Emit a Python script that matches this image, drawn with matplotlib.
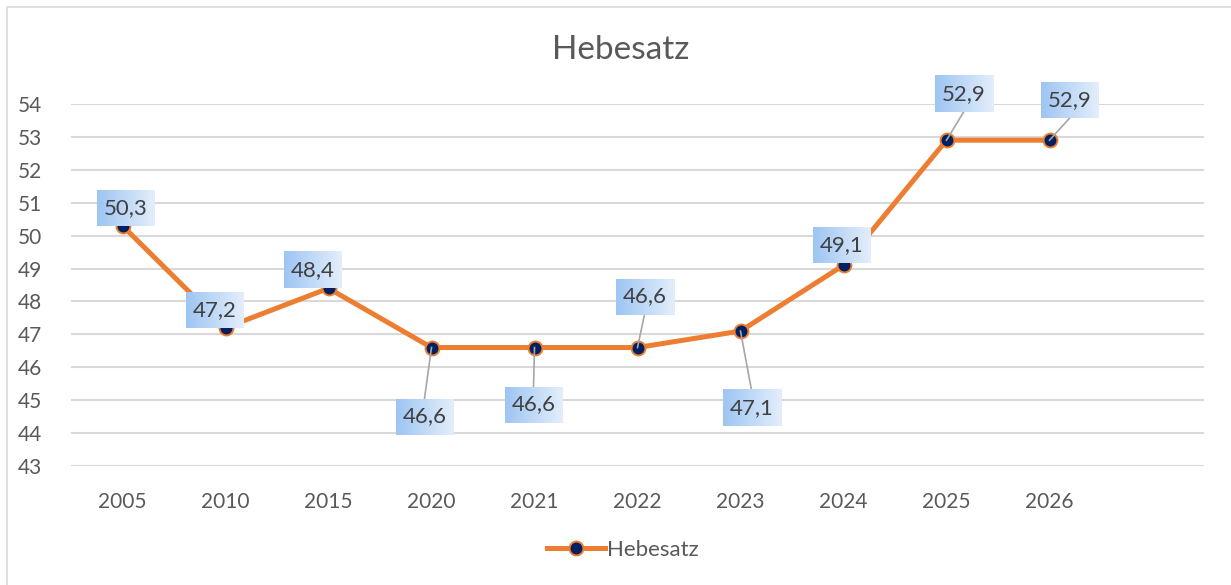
import numpy as np
import matplotlib
matplotlib.use("Agg")
from matplotlib import pyplot as plt
from matplotlib import patches
from matplotlib.lines import Line2D

# data
years = ["2005", "2010", "2015", "2020", "2021", "2022", "2023", "2024", "2025", "2026", ""]
hebesatz = [50.3, 47.2, 48.4, 46.6, 46.6, 46.6, 47.1, 49.1, 52.9, 52.9]
value_labels = ["50,3", "47,2", "48,4", "46,6", "46,6", "46,6", "47,1", "49,1", "52,9", "52,9"]
y_ticks = list(range(43, 55))

# label box offsets from the marker, in pixels (dx, dy up)
label_offsets = [(3, 18), (-11, 18), (-16, 18), (-7, -69), (-1, -57),
                 (7, 51), (11, -77), (-2, 20), (17, 46), (20, 40)]

W, H = 1231, 585
TEXT = "#595959"
GRID = "#D9D9D9"
ORANGE = "#ED7D31"
NAVY = "#002060"

plt.rcParams["font.family"] = ["Lato", "DejaVu Sans"]

fig = plt.figure(figsize=(W / 100, H / 100), dpi=100)
ax = fig.add_axes([71 / W, 1 - 466 / H, (1204 - 71) / W, (466 - 104) / H])

x = np.arange(len(hebesatz))
ax.plot(x, hebesatz, color=ORANGE, lw=3.6, zorder=3, solid_capstyle="round",
        marker="o", markersize=10, markerfacecolor=NAVY, markeredgecolor=ORANGE,
        markeredgewidth=1.4)

ax.set_xlim(-0.5, len(years) - 0.5)
ax.set_ylim(43, 54)
ax.set_autoscale_on(False)
ax.set_xticks(np.arange(len(years)))
ax.set_xticklabels(years)
ax.set_yticks(y_ticks)
ax.tick_params(axis="both", length=0, labelsize=15, colors=TEXT)
ax.tick_params(axis="x", pad=19)
ax.tick_params(axis="y", pad=21)
ax.grid(axis="y", color=GRID, lw=1.5)
ax.set_axisbelow(True)
for s in ax.spines.values():
    s.set_visible(False)

# gradient data labels
grad = np.linspace(0, 1, 64)[None, :]
c0 = np.array([0x9E, 0xC5, 0xF3]) / 255
c1 = np.array([0xE3, 0xEE, 0xFB]) / 255
img = c0[None, None, :] * (1 - grad[..., None]) + c1[None, None, :] * grad[..., None]
inv = ax.transData.inverted()
bw, bh = 58, 36
for i, (v, lab) in enumerate(zip(hebesatz, value_labels)):
    mx, my = ax.transData.transform((i, v))
    dx, dy = label_offsets[i]
    cx, cy = mx + dx, my + dy
    (x0, y0) = inv.transform((cx - bw / 2, cy - bh / 2))
    (x1, y1) = inv.transform((cx + bw / 2, cy + bh / 2))
    ax.imshow(img, extent=(x0, x1, y0, y1), aspect="auto", zorder=5,
              interpolation="bilinear", clip_on=False)
    if abs(dy) > 30:
        ey = cy - bh / 2 if dy > 0 else cy + bh / 2
        lx, ly = inv.transform((cx, ey))
        ax.add_line(Line2D([i, lx], [v, ly], color="#A6A6A6", lw=1.2, zorder=4))
    tx, ty = inv.transform((cx, cy))
    ax.text(tx, ty, lab, ha="center", va="center", fontsize=16, color="#404040", zorder=6)

ax.set_xlim(-0.5, len(years) - 0.5)
ax.set_ylim(43, 54)

fig.text(621 / W, 1 - 50 / H, "Hebesatz", ha="center", va="center", fontsize=24, color=TEXT)

handle = Line2D([], [], color=ORANGE, lw=3.6, marker="o", markersize=10,
                markerfacecolor=NAVY, markeredgecolor=ORANGE, markeredgewidth=1.4)
fig.legend([handle], ["Hebesatz"], loc="center", bbox_to_anchor=(623 / W, 1 - 550 / H),
           frameon=False, fontsize=16, labelcolor=TEXT, handlelength=2.6, handletextpad=0.1)

fig.patches.append(patches.Rectangle((7 / W, -0.1), 1.2, (H - 7) / H + 0.1, fill=False,
                                     edgecolor=GRID, lw=1.2, transform=fig.transFigure))

fig.savefig("out.png", dpi=100)
